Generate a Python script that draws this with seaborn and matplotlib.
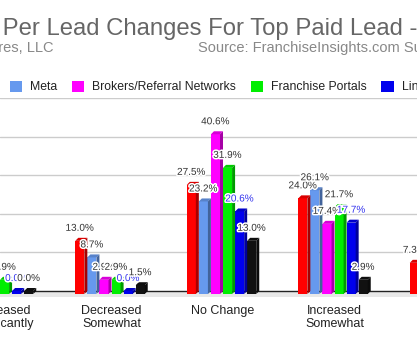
import numpy as np
import pandas as pd
import matplotlib
matplotlib.use("Agg")
import matplotlib.pyplot as plt
import matplotlib.patheffects as pe
from matplotlib.patches import Polygon
from matplotlib.colors import to_rgb
import seaborn as sns

categories = ["Decreased\nSignificantly", "Decreased\nSomewhat", "No Change",
              "Increased\nSomewhat", "Increased\nSignificantly"]
series = ["Google", "Meta", "Brokers/Referral Networks", "Franchise Portals",
          "LinkedIn", "Other"]
google = [5.8, 13.0, 27.5, 24.0, 7.3]
meta = [4.3, 8.7, 23.2, 26.1, 5.8]
brokers = [1.4, 2.9, 40.6, 17.4, 2.9]
portals = [2.9, 2.9, 31.9, 21.7, 4.3]
linkedin = [0.0, 0.0, 20.6, 17.7, 2.9]
other = [0.0, 1.5, 13.0, 2.9, 1.5]
colors = ["#ff0000", "#6699ee", "#ff00ff", "#00ee00", "#0000ee", "#111111"]
label_colors = ["#333333", "#333333", "#333333", "#333333", "#3333ee", "#333333"]

values = [google, meta, brokers, portals, linkedin, other]
df = pd.DataFrame({
    "category": [c for s in series for c in categories],
    "series": [s for s in series for c in categories],
    "value": [v for vals in values for v in vals],
})

sns.set_theme(style="white")
plt.rcParams["font.family"] = ["Liberation Sans", "DejaVu Sans"]

W, H = 417, 348
fig = plt.figure(figsize=(W / 100, H / 100), dpi=100)
# axes: y=0 at 291px, y=50 at 98px, bottom at 297px
px_per_unit = (291 - 98) / 50.0
ymin = -(297 - 291) / px_per_unit
ax = fig.add_axes([0, (H - 297) / H, 1, (297 - 98) / H])

sns.barplot(data=df, x="category", y="value", hue="series", order=categories,
            hue_order=series, palette=colors, width=0.65, saturation=1,
            ax=ax, legend=True, zorder=3, linewidth=0)

handles, labels = ax.get_legend_handles_labels()
ax.get_legend().remove()

cat_px = 111.5
x0 = 0.0
ax.set_xlim(x0, x0 + W / cat_px)
ax.set_ylim(ymin, 50)
for s in ax.spines.values():
    s.set_visible(False)
ax.set_yticks([10, 20, 30, 40, 50])
ax.set_yticklabels([])
ax.yaxis.grid(True, color="#cccccc", linewidth=1)
ax.xaxis.grid(False)
ax.set_axisbelow(True)
ax.set_xlabel("")
ax.set_ylabel("")
ax.tick_params(axis="x", length=0, pad=6, labelsize=9, labelcolor="#222222")
ax.tick_params(axis="y", length=0)
for t in ax.get_xticklabels():
    t.set_linespacing(1.1)

# floor band and back baseline
ax.axhspan(ymin, 0, color="#e8e8e8", zorder=1, linewidth=0)
ax.axhline(0, color="#222222", linewidth=1, zorder=2)

# 3D effect derived from the bar patches
dx = 3.0 / cat_px
dy = 3.0 / px_per_unit
bars = ax.patches[:len(series) * len(categories)]
for i, p in enumerate(bars):
    si = i // len(categories)
    ci = i % len(categories)
    v = values[si][ci]
    col = np.array(to_rgb(colors[si]))
    x = p.get_x()
    w = p.get_width() - dx
    p.set_width(w)
    p.set_y(-dy)
    p.set_height(v + dy)
    top = Polygon([(x, v), (x + w, v), (x + w + dx, v + dy), (x + dx, v + dy)],
                  closed=True, facecolor=col * 0.85, edgecolor="none", zorder=3)
    side = Polygon([(x + w, -dy), (x + w, v), (x + w + dx, v + dy), (x + w + dx, 0)],
                   closed=True, facecolor=col * 0.65, edgecolor="none", zorder=3)
    ax.add_patch(top)
    ax.add_patch(side)
    ax.annotate(f"{v:.1f}%", xy=(x + w / 2, v), xytext=(0, 13),
                textcoords="offset pixels", ha="center", va="center",
                fontsize=7.2, color=label_colors[si], zorder=5,
                path_effects=[pe.withStroke(linewidth=2.2, foreground="white")])

# title (the chart is cropped; title partly off-canvas)
r = fig.canvas.get_renderer()
ta = fig.text(0, 0, "Cost Per", fontsize=17.2)
tb = fig.text(0, 0, "Per", fontsize=17.2)
off = ta.get_window_extent(r).width - tb.get_window_extent(r).width
ta.remove()
tb.remove()
fig.text((3 - off) / W, 1 - 29 / H, "Cost Per Lead Changes For Top Paid Lead - 2024",
         fontsize=17.2, color="#666666", ha="left", va="center")
fig.text(53 / W, 1 - 48 / H, "Franchise Ventures, LLC", fontsize=10.5,
         color="#888888", ha="right", va="center")
fig.text(198 / W, 1 - 48 / H, "Source: FranchiseInsights.com Survey", fontsize=10.5,
         color="#888888", ha="left", va="center")

leg = fig.legend(handles, labels, ncol=6, loc="center left",
                 bbox_to_anchor=(0, 1 - 87 / H), frameon=False, fontsize=8.8,
                 handlelength=1.0, handleheight=1.0, handletextpad=0.65,
                 columnspacing=1.2, labelcolor="#222222")
fig.canvas.draw()
mx = leg.legend_handles[1].get_window_extent(fig.canvas.get_renderer()).x0
leg.set_bbox_to_anchor((-(mx - 10) / W, 1 - 87 / H), transform=fig.transFigure)

fig.savefig("out.png", dpi=100)
